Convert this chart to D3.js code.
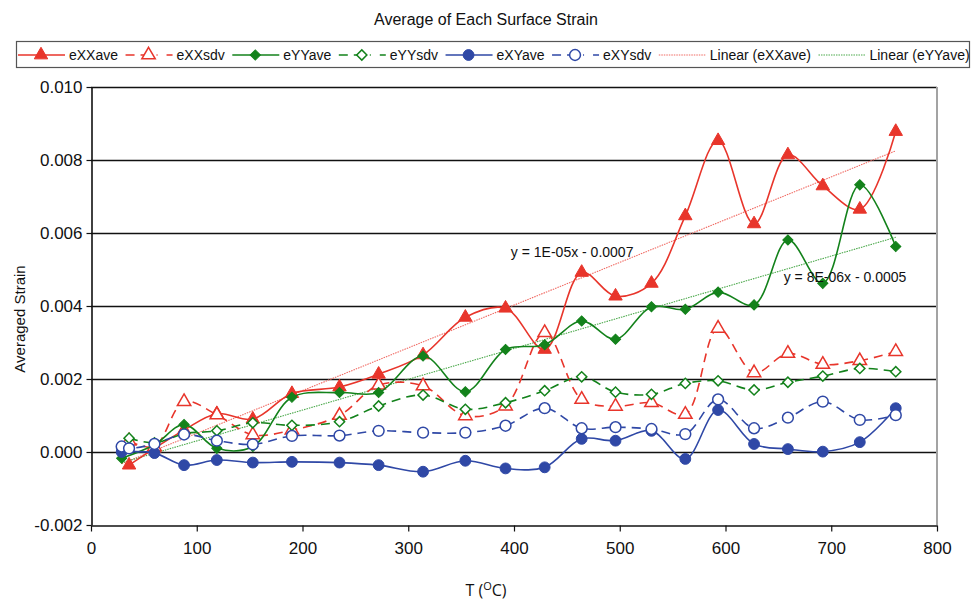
<!DOCTYPE html>
<html>
<head>
<meta charset="utf-8">
<script src="https://cdn.jsdelivr.net/npm/d3@7"></script>
<style>
  html, body { margin: 0; padding: 0; background: #fff; }
  svg { display: block; font-family: "Liberation Sans", Arial, sans-serif; }
</style>
</head>
<body>
<svg id="chart" width="972" height="601"></svg>
<script>
// Temperature of each measurement (°C)
const temps = [29, 36, 60, 88, 119, 153, 190, 235, 272, 314, 354, 392, 429, 464, 496, 530, 562, 593, 627, 659, 692, 727, 761];

// Surface strain averages and standard deviations (null = no reading at that temperature)
const eXXave = [null, -0.00036, 0.0001, 0.0006, 0.00105, 0.0009, 0.0016, 0.00178, 0.00213, 0.00266, 0.00369, 0.00394, 0.00281, 0.00492, 0.00427, 0.00462, 0.00647, 0.00853, 0.00625, 0.00814, 0.00729, 0.00665, 0.00878];
const eXXsdv = [null, 0.0003, 0.00015, 0.00138, 0.00102, 0.00047, 0.0006, 0.001, 0.00183, 0.00181, 0.00099, 0.00126, 0.00327, 0.00144, 0.00125, 0.00135, 0.00103, 0.00339, 0.00217, 0.0027, 0.0024, 0.0025, 0.00275];
const eYYave = [-0.00017, null, 0.0002, 0.00075, 0.0001, 0.00015, 0.0015, 0.00163, 0.00163, 0.00263, 0.00165, 0.00281, 0.00294, 0.00359, 0.00309, 0.00398, 0.00391, 0.00438, 0.00403, 0.00581, 0.00462, 0.00732, 0.00563];
const eYYsdv = [null, 0.00038, 0.00025, 0.0005, 0.00058, 0.0008, 0.00073, 0.00083, 0.00126, 0.00156, 0.00117, 0.00135, 0.00168, 0.00206, 0.00164, 0.00158, 0.00188, 0.00195, 0.0017, 0.00191, 0.00208, 0.00229, 0.0022];
const eXYave = [0.0, null, -0.00003, -0.00036, -0.00022, -0.00029, -0.00027, -0.00029, -0.00036, -0.00054, -0.00024, -0.00045, -0.00042, 0.00036, 0.00031, 0.00058, -0.00019, 0.00115, 0.00022, 0.00008, 0.00001, 0.00027, 0.0012];
const eXYsdv = [0.00015, 0.0001, 0.00022, 0.00048, 0.00031, 0.00021, 0.00044, 0.00045, 0.00058, 0.00053, 0.00053, 0.00072, 0.0012, 0.00065, 0.00068, 0.00063, 0.00049, 0.00144, 0.00065, 0.00094, 0.00138, 0.00088, 0.00101];

// Linear trend fits: [slope, intercept]
const trendXX = [1.171e-5, -0.00066];
const trendYY = [8.44e-6, -0.00054];

// Axis ticks
const xTicks = [0, 100, 200, 300, 400, 500, 600, 700, 800];
const yTicks = [-0.002, 0.000, 0.002, 0.004, 0.006, 0.008, 0.010];

const RED = "#e8352b", GREEN = "#13821b", BLUE = "#2f48a6";

const series = [
  { name: "eXXave", values: eXXave, color: RED,   dash: null,  marker: "triangle", filled: true },
  { name: "eXXsdv", values: eXXsdv, color: RED,   dash: "9,6", marker: "triangle", filled: false },
  { name: "eYYave", values: eYYave, color: GREEN, dash: null,  marker: "diamond",  filled: true },
  { name: "eYYsdv", values: eYYsdv, color: GREEN, dash: "9,6", marker: "diamond",  filled: false },
  { name: "eXYave", values: eXYave, color: BLUE,  dash: null,  marker: "circle",   filled: true },
  { name: "eXYsdv", values: eXYsdv, color: BLUE,  dash: "9,6", marker: "circle",   filled: false }
];
const trends = [
  { name: "Linear (eXXave)", coef: trendXX, color: "#f06a63" },
  { name: "Linear (eYYave)", coef: trendYY, color: "#4aa84a" }
];

const svg = d3.select("#chart");
const plot = { left: 91, right: 937, top: 87, bottom: 525 };

const x = d3.scaleLinear().domain([0, 800]).range([plot.left, plot.right]);
const y = d3.scaleLinear().domain([-0.002, 0.010]).range([plot.bottom, plot.top]);

// Title
svg.append("text")
  .attr("x", 486).attr("y", 25)
  .attr("text-anchor", "middle")
  .style("font-size", "16px").style("fill", "#111")
  .text("Average of Each Surface Strain");

// Horizontal gridlines
svg.append("g")
  .selectAll("line")
  .data(yTicks.filter(d => d > -0.002))
  .join("line")
  .attr("x1", plot.left).attr("x2", plot.right)
  .attr("y1", d => Math.round(y(d)) + 0.5).attr("y2", d => Math.round(y(d)) + 0.5)
  .attr("stroke", "#111").attr("stroke-width", 1.3);

// Right border of the plot area
svg.append("line")
  .attr("x1", plot.right).attr("x2", plot.right)
  .attr("y1", plot.top).attr("y2", plot.bottom)
  .attr("stroke", "#a3a3a3").attr("stroke-width", 2);

// Axes
const yFmt = d3.format(".3f");
const xAxis = svg.append("g")
  .attr("transform", `translate(0,${plot.bottom + 0.5})`)
  .call(d3.axisBottom(x).tickValues(xTicks).tickFormat(d3.format("d"))
    .tickSize(6).tickSizeOuter(0).tickPadding(10));
const yAxis = svg.append("g")
  .attr("transform", `translate(${plot.left + 0.5},0)`)
  .call(d3.axisLeft(y).tickValues(yTicks).tickFormat(d => yFmt(d).replace("\u2212", "-"))
    .tickSize(5).tickSizeOuter(0).tickPadding(4));

[xAxis, yAxis].forEach(g => {
  g.select(".domain").attr("stroke", "#111").attr("stroke-width", 1.6);
  g.selectAll(".tick line").attr("stroke", "#111").attr("stroke-width", 1.2);
  g.selectAll(".tick text")
    .style("font-family", "'Liberation Sans', Arial, sans-serif")
    .style("font-size", "17px").style("fill", "#111");
});

// Axis titles
svg.append("text")
  .attr("transform", "translate(25,319) rotate(-90)")
  .attr("text-anchor", "middle")
  .style("font-size", "15px").style("fill", "#111")
  .text("Averaged Strain");

const xTitle = svg.append("text")
  .attr("x", 486).attr("y", 596)
  .attr("text-anchor", "middle")
  .style("font-family", "'Open Sans', sans-serif")
  .style("font-size", "16px").style("fill", "#111");
xTitle.append("tspan").text("T (");
xTitle.append("tspan").attr("dy", -6).style("font-size", "11px").text("O");
xTitle.append("tspan").attr("dy", 6).text("C)");

// Marker shapes
function markerPath(kind) {
  if (kind === "triangle") return d3.symbol(d3.symbolTriangle, 78)();
  if (kind === "diamond") return d3.symbol(d3.symbolSquare, 52)();
  return d3.symbol(d3.symbolCircle, 92)();
}
function markerRotate(kind) { return kind === "diamond" ? 45 : 0; }

// Trend lines (dotted)
const trendG = svg.append("g");
const tMin = d3.min(temps), tMax = d3.max(temps);
trends.forEach(t => {
  trendG.append("path")
    .datum([tMin, tMax])
    .attr("d", d3.line().x(d => x(d)).y(d => y(t.coef[0] * d + t.coef[1])))
    .attr("fill", "none")
    .attr("stroke", t.color)
    .attr("stroke-width", 1.1)
    .attr("stroke-dasharray", "1.5,1");
});

// Data series: smoothed lines with markers
const line = d3.line()
  .defined(d => d.v !== null)
  .x(d => x(d.t)).y(d => y(d.v))
  .curve(d3.curveCatmullRom.alpha(0.5));

series.forEach(s => {
  const pts = temps.map((t, i) => ({ t, v: s.values[i] }));
  const valid = pts.filter(d => d.v !== null);
  const g = svg.append("g");
  g.append("path")
    .datum(valid)
    .attr("d", line)
    .attr("fill", "none")
    .attr("stroke", s.color)
    .attr("stroke-width", 1.6)
    .attr("stroke-dasharray", s.dash);
  g.selectAll("path.mk")
    .data(valid)
    .join("path")
    .attr("class", "mk")
    .attr("d", markerPath(s.marker))
    .attr("transform", d => `translate(${x(d.t)},${y(d.v)}) rotate(${markerRotate(s.marker)})`)
    .attr("fill", s.filled ? s.color : "#fff")
    .attr("stroke", s.color)
    .attr("stroke-width", s.filled ? 1 : 1.5);
});

// Trend equations
function eqText(c) {
  const [m, e] = c[0].toExponential(0).split("e");
  const exp = (e[0] === "-" ? "-" : "+") + String(Math.abs(+e)).padStart(2, "0");
  const b = c[1];
  return `y = ${m}E${exp}x ${b < 0 ? "-" : "+"} ${Math.abs(b).toFixed(4)}`;
}
svg.append("text")
  .attr("x", x(455)).attr("y", y(0.00548) + 5)
  .attr("text-anchor", "middle")
  .style("font-size", "14px").style("fill", "#111")
  .text(eqText(trendXX));
svg.append("text")
  .attr("x", x(713)).attr("y", y(0.0048) + 5)
  .attr("text-anchor", "middle")
  .style("font-size", "14px").style("fill", "#111")
  .text(eqText(trendYY));

// Legend
const legend = svg.append("g");
legend.append("rect")
  .attr("x", 16.5).attr("y", 41.5).attr("width", 953).attr("height", 26)
  .attr("fill", "#fff").attr("stroke", "#555").attr("stroke-width", 1.2);
const legendItems = series.map(s => ({ ...s, trend: false }))
  .concat(trends.map(t => ({ name: t.name, color: t.color, trend: true })));
let lx = 18;
const ly = 55;
legendItems.forEach(it => {
  const g = legend.append("g");
  if (it.trend) {
    g.append("line")
      .attr("x1", lx).attr("x2", lx + 47).attr("y1", ly).attr("y2", ly)
      .attr("stroke", it.color).attr("stroke-width", 1.1).attr("stroke-dasharray", "1.5,1");
  } else {
    g.append("line")
      .attr("x1", lx).attr("x2", lx + 47).attr("y1", ly).attr("y2", ly)
      .attr("stroke", it.color).attr("stroke-width", 1.6)
      .attr("stroke-dasharray", it.dash ? "9,6,9,7,1" : null);
    g.append("path")
      .attr("d", markerPath(it.marker))
      .attr("transform", `translate(${lx + 23},${ly}) rotate(${markerRotate(it.marker)})`)
      .attr("fill", it.filled ? it.color : "#fff")
      .attr("stroke", it.color)
      .attr("stroke-width", it.filled ? 1 : 1.5);
  }
  const txt = g.append("text")
    .attr("x", lx + 51).attr("y", ly + 5)
    .style("font-size", "14px").style("fill", "#111")
    .text(it.name);
  lx += 51 + txt.node().getComputedTextLength() + 7.5;
});
</script>
</body>
</html>
